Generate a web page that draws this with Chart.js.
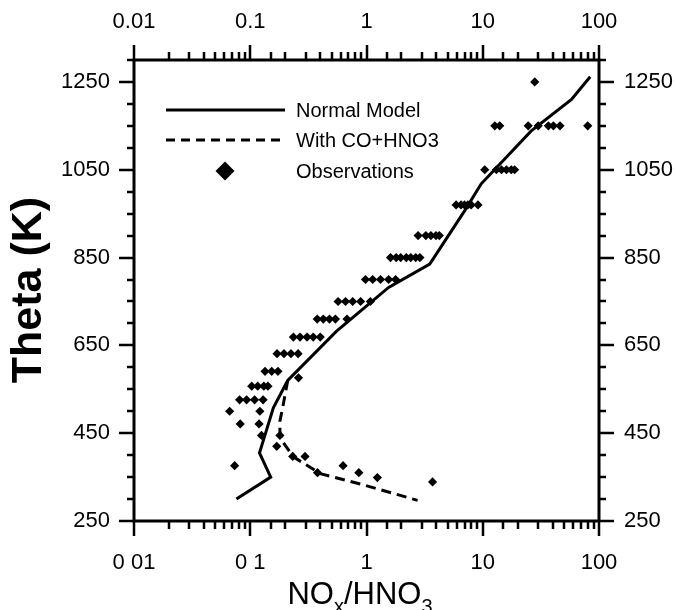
<!DOCTYPE html>
<html>
<head>
<meta charset="utf-8">
<script src="https://cdn.jsdelivr.net/npm/chart.js@4.4.1/dist/chart.umd.min.js"></script>
<style>
html,body{margin:0;padding:0;background:#fff;}
#wrap{width:676px;height:610px;position:relative;}
</style>
</head>
<body>
<div id="wrap"><canvas id="c" width="676" height="610"></canvas></div>
<script>
// ---------- data ----------
const xDecades = [0.01, 0.1, 1, 10, 100];
const xTickLabelsBottom = ['0 01', '0 1', '1', '10', '100'];
const xTickLabelsTop = ['0.01', '0.1', '1', '10', '100'];
const yLabelValues = [250, 450, 650, 850, 1050, 1250];
const seriesNames = ['Normal Model', 'With CO+HNO3', 'Observations'];
const yTitle = 'Theta (K)';

const modelRatio = [0.076, 0.15, 0.12, 0.125, 0.158, 0.21, 0.55, 1.55, 3.5, 7.0, 9.7, 26, 58, 84];
const modelTheta = [300, 350, 405, 420, 508, 570, 682, 782, 835, 957, 1018, 1138, 1210, 1262];

const coRatio = [0.21, 0.19, 0.18, 0.18, 0.186, 0.235, 0.40, 0.95, 2.75];
const coTheta = [570, 508, 478, 455, 434, 396, 358, 332, 297];

const obsRatio = [
  28,
  12.7, 14.0, 24.6, 30.0, 36.7, 40.5, 46.2, 80,
  10.4, 13.1, 14.5, 16.0, 17.6, 18.8,
  5.9, 6.5, 6.96, 7.45, 7.95, 9.1,
  2.78, 3.24, 3.58, 3.96, 4.23,
  1.61, 1.8, 1.97, 2.2, 2.4, 2.65, 2.88,
  0.98, 1.13, 1.32, 1.55, 1.78,
  0.57, 0.66, 0.76, 0.89, 1.08,
  0.377, 0.425, 0.48, 0.54, 0.68,
  0.235, 0.268, 0.308, 0.348, 0.40,
  0.17, 0.195, 0.224, 0.258,
  0.134, 0.153, 0.173,
  0.26,
  0.103, 0.116, 0.131, 0.142,
  0.081, 0.093, 0.109, 0.129,
  0.0665, 0.121,
  0.082, 0.119,
  0.125, 0.18,
  0.169,
  0.232, 0.296,
  0.0734, 0.629,
  0.379, 0.859,
  1.24,
  3.70
];
const obsTheta = [
  1250,
  1150, 1150, 1150, 1150, 1150, 1150, 1150, 1150,
  1050, 1050, 1050, 1050, 1050, 1050,
  970, 970, 970, 970, 970, 970,
  900, 900, 900, 900, 900,
  850, 850, 850, 850, 850, 850, 850,
  800, 800, 800, 800, 800,
  750, 750, 750, 750, 750,
  710, 710, 710, 710, 710,
  669, 669, 669, 669, 669,
  631, 631, 631, 631,
  591, 591, 591,
  576,
  557, 557, 557, 557,
  526, 526, 526, 526,
  500, 500,
  471, 471,
  445, 445,
  420,
  397, 397,
  376, 376,
  360, 360,
  349,
  339
];

// ---------- helpers ----------
const FONT = "'Liberation Sans', Arial, Helvetica, sans-serif";
const pts = (xs, ys) => xs.map((v, i) => ({x: v, y: ys[i]}));
const decadeIndex = v => xDecades.findIndex(d => Math.abs(Math.log10(v) - Math.log10(d)) < 1e-6);

const drawDecor = {
  id: 'drawDecor',
  afterDraw(chart) {
    const ctx = chart.ctx, a = chart.chartArea;
    const sx = chart.scales.x, sy = chart.scales.y;
    ctx.save();
    ctx.strokeStyle = '#000';
    ctx.fillStyle = '#000';
    ctx.lineCap = 'butt';
    // frame
    ctx.lineWidth = 3;
    ctx.strokeRect(a.left, a.top, a.right - a.left, a.bottom - a.top);
    // x ticks (bottom & top)
    ctx.lineWidth = 2.5;
    sx.ticks.forEach(t => {
      const px = Math.round(sx.getPixelForValue(t.value));
      const major = decadeIndex(t.value) >= 0;
      const len = major ? 15 : 8;
      ctx.beginPath();
      ctx.moveTo(px, a.bottom); ctx.lineTo(px, a.bottom + len);
      ctx.moveTo(px, a.top); ctx.lineTo(px, a.top - len);
      ctx.stroke();
    });
    // y ticks (left & right)
    sy.ticks.forEach(t => {
      const py = Math.round(sy.getPixelForValue(t.value));
      const major = yLabelValues.includes(t.value);
      const len = major ? 15 : 7;
      ctx.beginPath();
      ctx.moveTo(a.left, py); ctx.lineTo(a.left - len, py);
      ctx.moveTo(a.right, py); ctx.lineTo(a.right + len, py);
      ctx.stroke();
    });

    // legend
    const lx0 = 166, lx1 = 285, tx = 296;
    const ly = [110, 140, 171];
    ctx.lineWidth = 3;
    ctx.setLineDash([]);
    ctx.beginPath(); ctx.moveTo(lx0, ly[0]); ctx.lineTo(lx1, ly[0]); ctx.stroke();
    ctx.setLineDash([9, 6]);
    ctx.beginPath(); ctx.moveTo(lx0, ly[1]); ctx.lineTo(lx1, ly[1]); ctx.stroke();
    ctx.setLineDash([]);
    const dcx = 225, dr = 9.5;
    ctx.beginPath();
    ctx.moveTo(dcx - dr, ly[2]); ctx.lineTo(dcx, ly[2] - dr);
    ctx.lineTo(dcx + dr, ly[2]); ctx.lineTo(dcx, ly[2] + dr);
    ctx.closePath(); ctx.fill();
    ctx.font = '20px ' + FONT;
    ctx.textAlign = 'left';
    ctx.textBaseline = 'middle';
    seriesNames.forEach((n, i) => ctx.fillText(n, tx, ly[i] + 1));

    // y title
    ctx.save();
    ctx.translate(29, 290);
    ctx.rotate(-Math.PI / 2);
    ctx.font = 'bold 43px ' + FONT;
    ctx.textAlign = 'center';
    ctx.textBaseline = 'middle';
    ctx.fillText(yTitle, 0, 0);
    ctx.restore();

    // x title with subscripts: NOx/HNO3
    const parts = [['NO', false], ['x', true], ['/HNO', false], ['3', true]];
    const big = '31px ' + FONT, small = '20px ' + FONT;
    let total = 0;
    parts.forEach(p => { ctx.font = p[1] ? small : big; total += ctx.measureText(p[0]).width; });
    let cx = 360 - total / 2;
    const base = 604;
    ctx.textAlign = 'left';
    ctx.textBaseline = 'alphabetic';
    parts.forEach(p => {
      ctx.font = p[1] ? small : big;
      ctx.fillText(p[0], cx, p[1] ? base + 9 : base);
      cx += ctx.measureText(p[0]).width;
    });
    ctx.restore();
  }
};

const tickFont = {family: FONT, size: 22};
const xCb = labels => function(v) { const i = decadeIndex(v); return i >= 0 ? labels[i] : ''; };
const yCb = v => yLabelValues.includes(v) ? String(v) : '';

new Chart(document.getElementById('c'), {
  data: {
    datasets: [
      {
        type: 'line', label: seriesNames[0], data: pts(modelRatio, modelTheta),
        borderColor: '#000', borderWidth: 3, pointRadius: 0, tension: 0, fill: false,
        xAxisID: 'x', yAxisID: 'y', order: 1
      },
      {
        type: 'line', label: seriesNames[1], data: pts(coRatio, coTheta),
        borderColor: '#000', borderWidth: 3, borderDash: [10, 6], pointRadius: 0, tension: 0, fill: false,
        xAxisID: 'x', yAxisID: 'y', order: 2
      },
      {
        type: 'scatter', label: seriesNames[2], data: pts(obsRatio, obsTheta),
        pointStyle: 'rectRot', pointRadius: 4.6, pointBackgroundColor: '#000', pointBorderColor: '#000',
        pointBorderWidth: 0, showLine: false,
        xAxisID: 'x', yAxisID: 'y', order: 3
      }
    ]
  },
  options: {
    responsive: false,
    animation: false,
    devicePixelRatio: 1,
    layout: {padding: 0},
    plugins: {legend: {display: false}, tooltip: {enabled: false}, title: {display: false}},
    scales: {
      x: {
        type: 'logarithmic', position: 'bottom', min: 0.01, max: 100,
        grid: {display: false}, border: {display: false},
        ticks: {autoSkip: false, maxRotation: 0, minRotation: 0, padding: 21, color: '#000', font: tickFont, callback: xCb(xTickLabelsBottom)},
        afterFit: s => { s.height = 89; }
      },
      x2: {
        type: 'logarithmic', position: 'top', min: 0.01, max: 100,
        grid: {display: false}, border: {display: false},
        ticks: {autoSkip: false, maxRotation: 0, minRotation: 0, padding: 17, color: '#000', font: tickFont, callback: xCb(xTickLabelsTop)},
        afterFit: s => { s.height = 60; }
      },
      y: {
        type: 'linear', position: 'left', min: 250, max: 1300,
        grid: {display: false}, border: {display: false},
        ticks: {stepSize: 50, autoSkip: false, padding: 16, color: '#000', font: tickFont, callback: yCb},
        afterFit: s => { s.width = 134; }
      },
      y2: {
        type: 'linear', position: 'right', min: 250, max: 1300,
        grid: {display: false}, border: {display: false},
        ticks: {stepSize: 50, autoSkip: false, padding: 17, color: '#000', font: tickFont, callback: yCb},
        afterFit: s => { s.width = 77; }
      }
    }
  },
  plugins: [drawDecor]
});
</script>
</body>
</html>
